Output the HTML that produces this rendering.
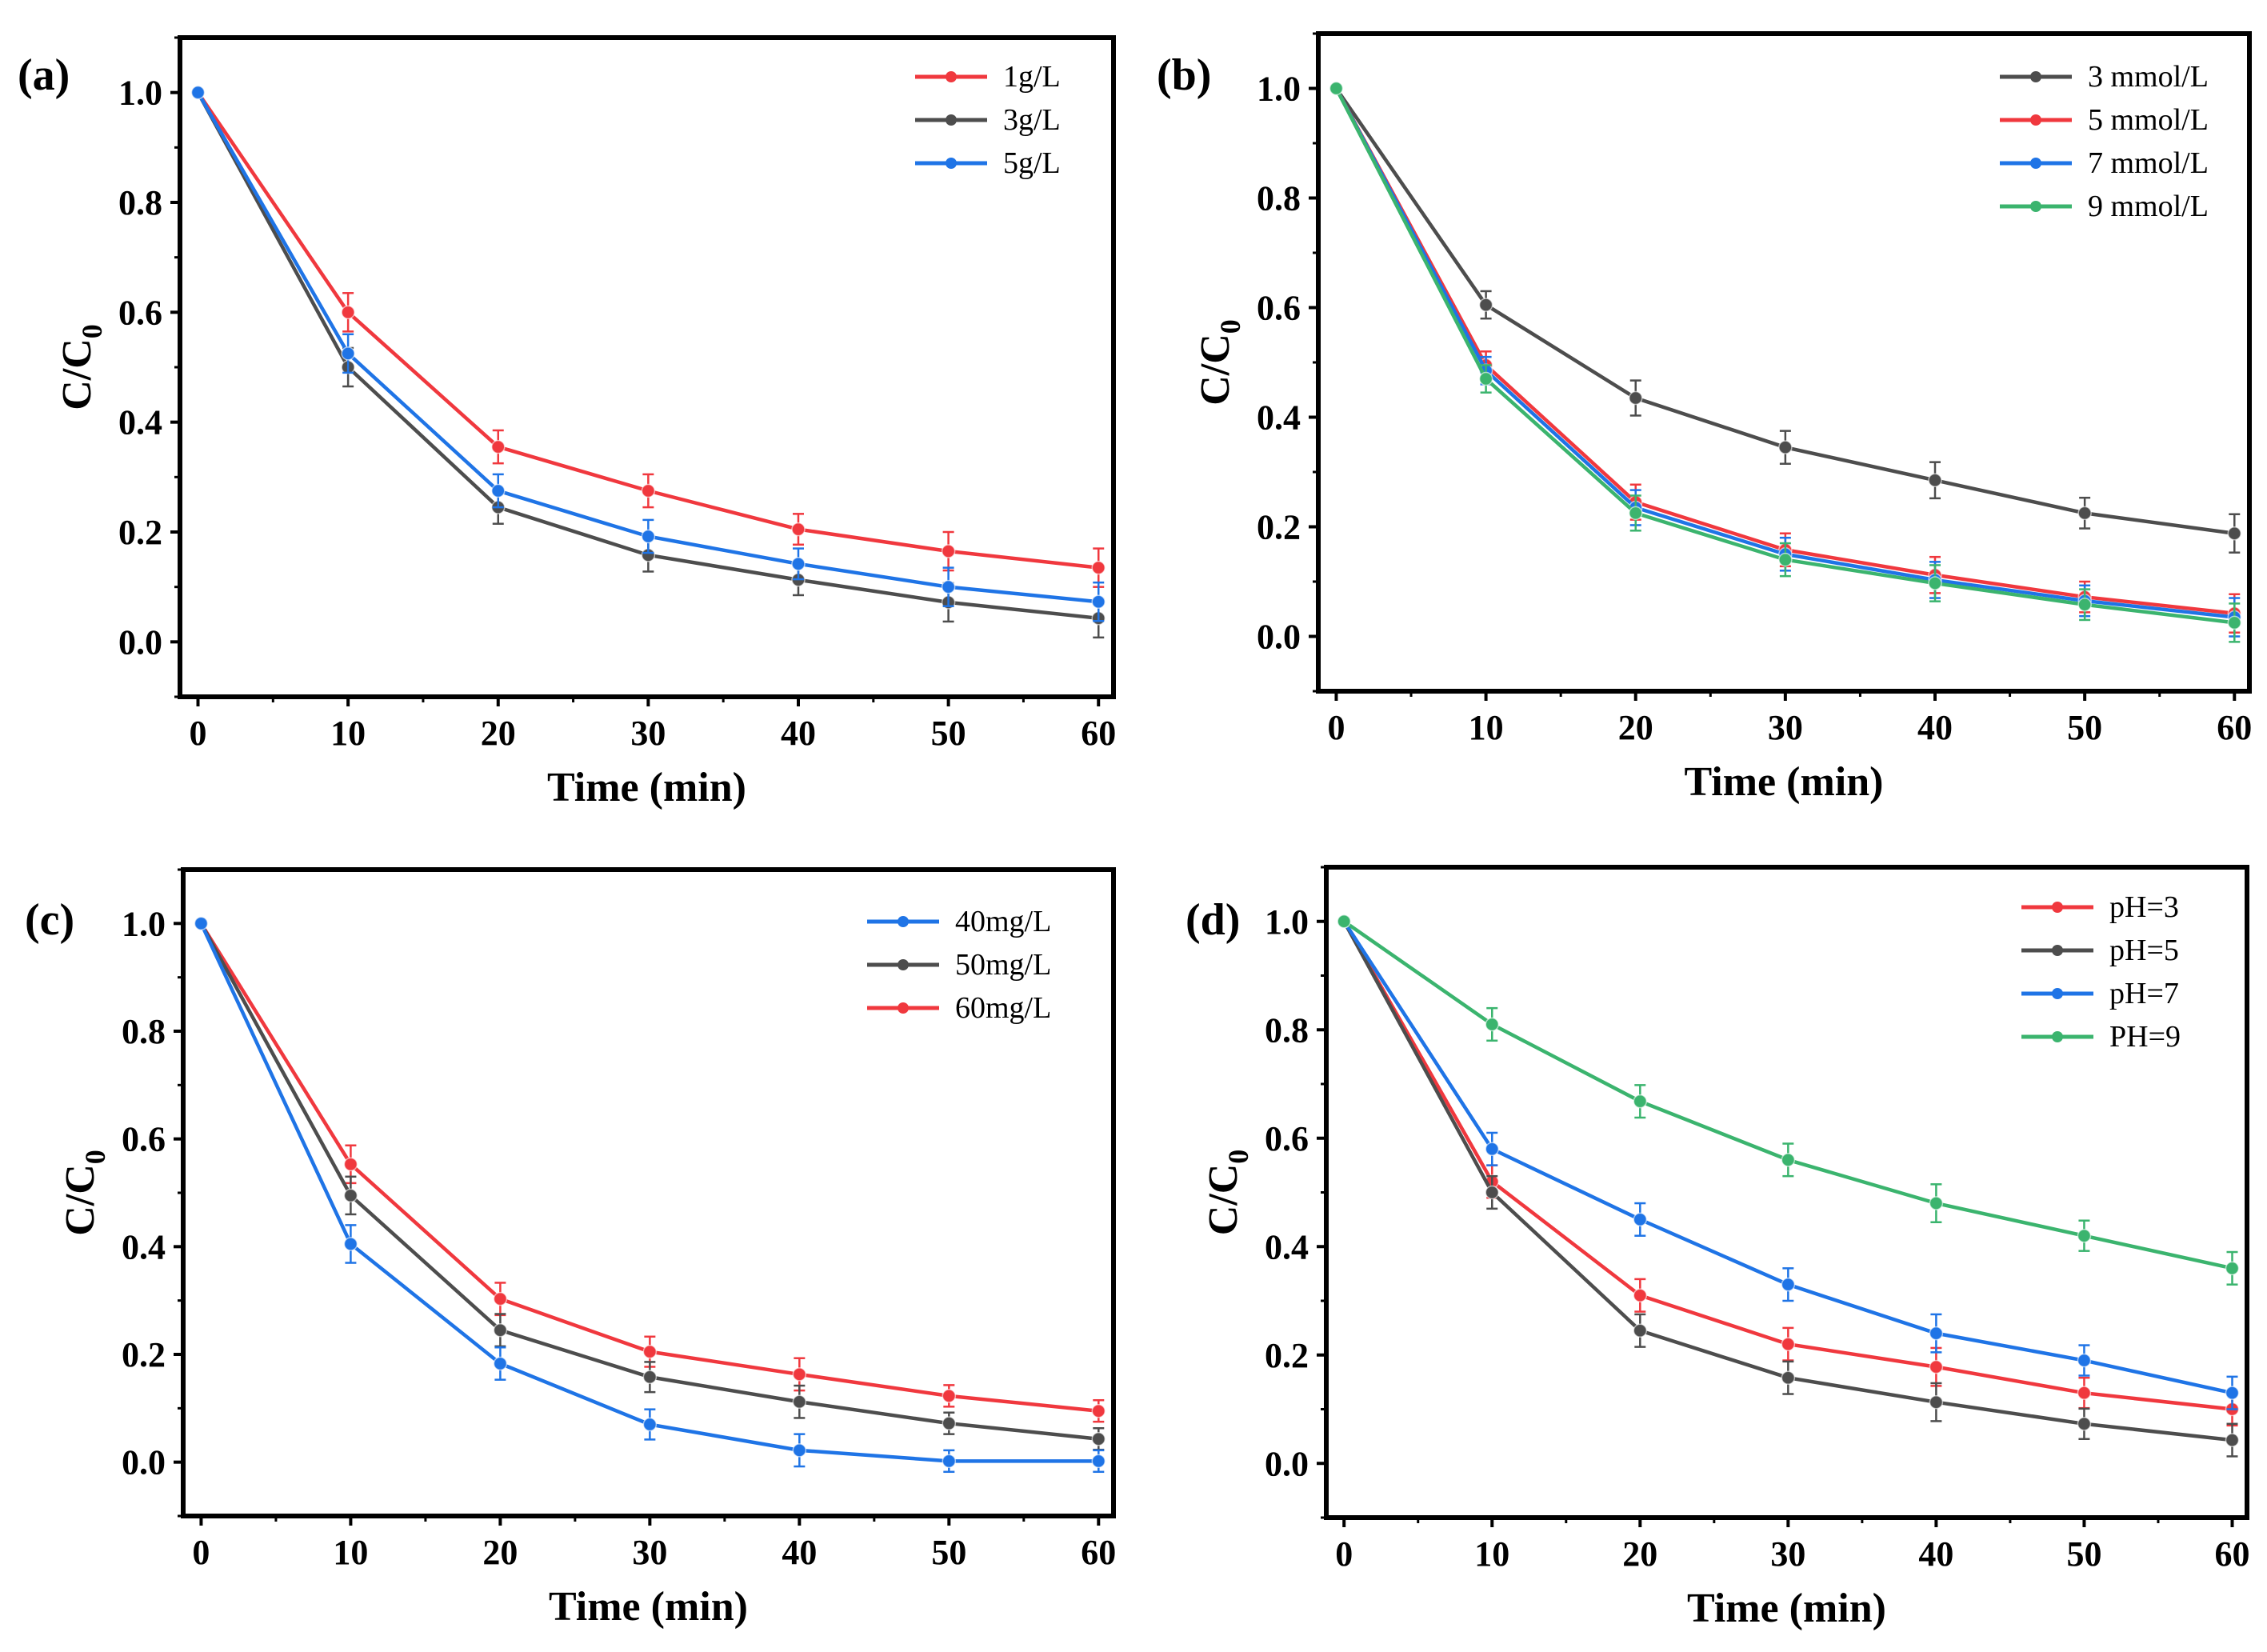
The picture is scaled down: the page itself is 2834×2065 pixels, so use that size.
<!DOCTYPE html>
<html><head><meta charset="utf-8"><style>
html,body{margin:0;padding:0;background:#fff;}
svg{display:block;font-family:"Liberation Serif",serif;}
</style></head><body>
<svg id="fig" width="2834" height="2065" viewBox="0 0 2834 2065" xmlns="http://www.w3.org/2000/svg"></svg>
<script>
const times = [0,10,20,30,40,50,60];
const yTicks = [0.0,0.2,0.4,0.6,0.8,1.0];
const xTicks = [0,10,20,30,40,50,60];
const yTickLabels = ["0.0","0.2","0.4","0.6","0.8","1.0"];

const aNames = ["1g/L","3g/L","5g/L"];
const a1 = [1,0.60,0.355,0.275,0.205,0.165,0.135];
const a3 = [1,0.50,0.245,0.158,0.113,0.072,0.043];
const a5 = [1,0.525,0.275,0.192,0.142,0.100,0.073];
const aErr = [0,0.035,0.03,0.03,0.028,0.035,0.035];

const bNames = ["3 mmol/L","5 mmol/L","7 mmol/L","9 mmol/L"];
const b3 = [1,0.605,0.435,0.345,0.285,0.225,0.188];
const b5 = [1,0.495,0.245,0.158,0.112,0.072,0.042];
const b7 = [1,0.485,0.235,0.150,0.103,0.065,0.035];
const b9 = [1,0.470,0.225,0.140,0.097,0.058,0.025];
const bErr = [0,0.025,0.032,0.03,0.033,0.028,0.035];

const cNames = ["40mg/L","50mg/L","60mg/L"];
const c40 = [1,0.405,0.183,0.070,0.022,0.002,0.002];
const c50 = [1,0.495,0.245,0.158,0.112,0.072,0.043];
const c60 = [1,0.553,0.303,0.205,0.163,0.123,0.095];
const cErr = [0,0.035,0.03,0.028,0.03,0.02,0.02];

const dNames = ["pH=3","pH=5","pH=7","PH=9"];
const d3 = [1,0.52,0.31,0.22,0.178,0.13,0.10];
const d5 = [1,0.50,0.245,0.158,0.113,0.073,0.043];
const d7 = [1,0.58,0.45,0.33,0.24,0.19,0.13];
const d9 = [1,0.81,0.668,0.56,0.48,0.42,0.36];
const dErr = [0,0.03,0.03,0.03,0.035,0.028,0.03];

const RED="#f0383e", GRAY="#4d4d4d", BLUE="#1f74e6", GREEN="#3bb46e";
const NS="http://www.w3.org/2000/svg";
const svg=document.getElementById('fig');
function mk(tag,attrs,parent){const e=document.createElementNS(NS,tag);for(const k in attrs)e.setAttribute(k,attrs[k]);(parent||svg).appendChild(e);return e;}

const panels=[
 {id:'a',label:'(a)',lx:22,ly:112,box:[225,47,1392,871],series:[[aNames[0],a1,RED],[aNames[1],a3,GRAY],[aNames[2],a5,BLUE]],err:aErr,leg:[1144,96],rev:false},
 {id:'b',label:'(b)',lx:1446,ly:112,box:[1648,42,2812,864],series:[[bNames[0],b3,GRAY],[bNames[1],b5,RED],[bNames[2],b7,BLUE],[bNames[3],b9,GREEN]],err:bErr,leg:[2500,96],rev:false},
 {id:'c',label:'(c)',lx:31,ly:1168,box:[229,1087,1392,1895],series:[[cNames[0],c40,BLUE],[cNames[1],c50,GRAY],[cNames[2],c60,RED]],err:cErr,leg:[1084,1152],rev:true},
 {id:'d',label:'(d)',lx:1482,ly:1168,box:[1658,1084,2809,1897],series:[[dNames[0],d3,RED],[dNames[1],d5,GRAY],[dNames[2],d7,BLUE],[dNames[3],d9,GREEN]],err:dErr,leg:[2527,1134],rev:false}
];

panels.forEach(p=>{
 const g=mk('g',{});
 
 
 const [L,T,R,B]=p.box;
 const X=v=>L+(v+1.2)/(62.2)*(R-L);
 const Y=v=>B-(v+0.1)/1.2*(B-T);
 const frame=mk('rect',{x:L,y:T,width:R-L,height:B-T,fill:'none',stroke:'#000','stroke-width':6},g);
 
 
 xTicks.forEach((t,i)=>{
  mk('line',{x1:X(t),x2:X(t),y1:B,y2:B+12,stroke:'#000','stroke-width':4},g);
  if(i<xTicks.length-1) mk('line',{x1:X(t+5),x2:X(t+5),y1:B,y2:B+7,stroke:'#000','stroke-width':3},g);
  const tx=mk('text',{x:X(t),y:B+60,'font-size':44,'font-weight':'bold','text-anchor':'middle'},g);
  tx.textContent=t;
  
  
 });
 yTicks.forEach((t,i)=>{
  mk('line',{x1:L-12,x2:L,y1:Y(t),y2:Y(t),stroke:'#000','stroke-width':4},g);
  mk('line',{x1:L-7,x2:L,y1:Y(t+0.1),y2:Y(t+0.1),stroke:'#000','stroke-width':3},g);
  const ty=mk('text',{x:L-22,y:Y(t)+15,'font-size':44,'font-weight':'bold','text-anchor':'end'},g);
  ty.textContent=yTickLabels[i];
  
  
 });
 mk('line',{x1:L-7,x2:L,y1:Y(-0.1),y2:Y(-0.1),stroke:'#000','stroke-width':3},g);
 const xt=mk('text',{x:(L+R)/2,y:B+130,'font-size':52,'font-weight':'bold','text-anchor':'middle'},g);
 xt.textContent='Time (min)';
 
 
 const yt=mk('text',{x:0,y:0,'font-size':52,'font-weight':'bold','text-anchor':'middle',transform:`translate(${L-112},${(T+B)/2}) rotate(-90)`},g);
 yt.innerHTML='C/C<tspan font-size="36" dy="14">0</tspan>';
 
 
 const pl=mk('text',{x:p.lx,y:p.ly,'font-size':56,'font-weight':'bold'},g);
 pl.textContent=p.label;
 
 
 const order=p.series.map((s,i)=>i);
 if(p.rev) order.reverse();
 order.forEach(si=>{
  const [name,vals,col]=p.series[si];
  const sg=mk('g',{},g);
  
  
  const pts=vals.map((v,i)=>X(times[i])+','+Y(v)).join(' ');
  mk('polyline',{points:pts,fill:'none',stroke:col,'stroke-width':4.5},sg);
  vals.forEach((v,i)=>{
   const e=p.err[i];
   if(e>0){
    const x=X(times[i]);
    mk('line',{x1:x,x2:x,y1:Y(v+e),y2:Y(v-e),stroke:col,'stroke-width':2.5},sg);
    mk('line',{x1:x-7,x2:x+7,y1:Y(v+e),y2:Y(v+e),stroke:col,'stroke-width':2.5},sg);
    mk('line',{x1:x-7,x2:x+7,y1:Y(v-e),y2:Y(v-e),stroke:col,'stroke-width':2.5},sg);
   }
   const m=mk('circle',{cx:X(times[i]),cy:Y(v),r:8,fill:col,stroke:'#fff','stroke-width':1.5,'stroke-opacity':0.6},sg);
   
   
  });
  const [lx,ly]=p.leg;
  const lg=mk('g',{},g);
  
  
  const yy=ly+si*54;
  mk('line',{x1:lx,x2:lx+90,y1:yy,y2:yy,stroke:col,'stroke-width':5},lg);
  mk('circle',{cx:lx+45,cy:yy,r:7,fill:col},lg);
  const lt=mk('text',{x:lx+110,y:yy+12,'font-size':38},lg);
  lt.textContent=name;
 });
});
</script>
</body></html>
